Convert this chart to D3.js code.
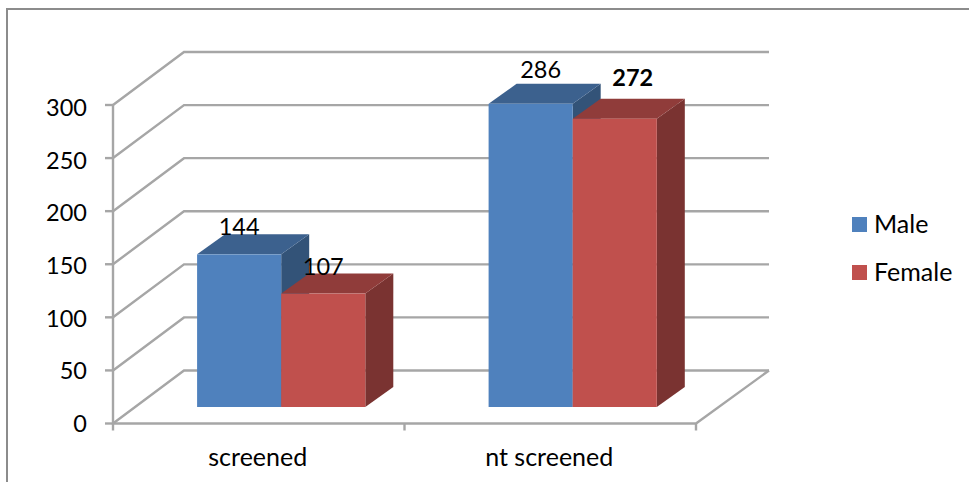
<!DOCTYPE html>
<html>
<head>
<meta charset="utf-8">
<script src="https://cdn.jsdelivr.net/npm/d3@7"></script>
<style>
  html, body { margin: 0; padding: 0; background: #fff; }
  svg { display: block; }
  text { font-family: Lato, "Open Sans", sans-serif; fill: #000; }
</style>
</head>
<body>
<svg id="chart" width="969" height="482"></svg>
<script>
const categories = ["screened", "nt screened"];
const seriesNames = ["Male", "Female"];
const maleValues = [144, 286];
const femaleValues = [107, 272];
const yTicks = [0, 50, 100, 150, 200, 250, 300];
const boldLabels = ["Female|nt screened"];

const faceColors = { Male: "#4f81bd", Female: "#c0504d" };
const topColors = { Male: "#3c618e", Female: "#903c3a" };
const sideColors = { Male: "#335378", Female: "#7a3331" };
const gridColor = "#a6a6a6";
const digitSize = 23.5;
const wordSize = 25;

// Hand-placed data labels: shift from the centre of the bar and lift above its front edge
const labelShift = {
  "Male|screened": [0, 19],
  "Female|screened": [0, 19],
  "Male|nt screened": [10, 26],
  "Female|nt screened": [18, 33]
};

const svg = d3.select("#chart");

// Chart frame: only the top and left edges fall inside the page
svg.append("path")
  .attr("d", d3.line()([[7, 482], [7, 9], [969, 9]]))
  .attr("fill", "none").attr("stroke", "#8c8c8c").attr("stroke-width", 2);

// Projection of the 3D floor: the back wall sits up and to the right of the front plane
const depth = { dx: 71, dy: -53 };
const barDepth = { dx: 28, dy: -20 };
const plotLeft = 113;
const plotRight = 696;

const y = d3.scaleLinear().domain([0, 300]).range([423.5, 105]);
const yBar = d3.scaleLinear().domain([0, 300]).range([407, 89]);
const yLabelBaseline = d3.scaleLinear().domain([0, 300]).range([432, 116]);
const x0 = d3.scaleBand().domain(categories).range([plotLeft, plotRight]);
const x1 = d3.scaleBand().domain(seriesNames)
  .range([x0.bandwidth() * 0.2885, x0.bandwidth() * 0.8655]);

const grid = svg.append("g")
  .attr("fill", "none").attr("stroke", gridColor).attr("stroke-width", 2.4);

// Back-wall gridlines with their diagonal return to the value axis
grid.selectAll("path.wall")
  .data(yTicks)
  .join("path")
  .attr("class", "wall")
  .attr("d", t => d3.line()([
    [plotLeft, y(t)],
    [plotLeft + depth.dx, y(t) + depth.dy],
    [plotRight + depth.dx + 2, y(t) + depth.dy]
  ]));

// Value axis, front floor edge and the right floor diagonal
grid.append("path")
  .attr("d", d3.line()([[plotLeft, y(300)], [plotLeft, y(0)], [plotRight, y(0)],
    [plotRight + depth.dx + 2, y(0) + depth.dy]]));

// Tick marks
grid.selectAll("line.ytick")
  .data(yTicks)
  .join("line")
  .attr("class", "ytick")
  .attr("x1", plotLeft - 8).attr("x2", plotLeft)
  .attr("y1", d => y(d)).attr("y2", d => y(d));

const xTickPositions = categories.map(c => x0(c)).concat(plotRight);
grid.selectAll("line.xtick")
  .data(xTickPositions)
  .join("line")
  .attr("class", "xtick")
  .attr("x1", d => d).attr("x2", d => d)
  .attr("y1", y(0)).attr("y2", y(0) + 7);

// Axis text
svg.append("g").selectAll("text")
  .data(yTicks)
  .join("text")
  .attr("x", 87).attr("y", d => yLabelBaseline(d))
  .attr("text-anchor", "end")
  .style("font-size", digitSize + "px")
  .text(d => d);

svg.append("g").selectAll("text")
  .data(categories)
  .join("text")
  .attr("x", c => x0(c) + x0.bandwidth() / 2 - 1)
  .attr("y", 466)
  .attr("text-anchor", "middle")
  .style("font-size", wordSize + "px")
  .text(c => c);

// Bars: side, top, then front face, drawn left to right so that later bars overlap
const rows = categories.flatMap((c, i) => [
  { category: c, series: "Male", value: maleValues[i] },
  { category: c, series: "Female", value: femaleValues[i] }
]);

const bars = svg.append("g").selectAll("g")
  .data(rows)
  .join("g")
  .attr("transform", d => `translate(${x0(d.category) + x1(d.series)},0)`);

const bw = x1.bandwidth();
const { dx, dy } = barDepth;

bars.append("path")
  .attr("fill", d => sideColors[d.series])
  .attr("d", d => {
    const t = yBar(d.value), b = yBar(0);
    return d3.line()([[bw, t], [bw + dx, t + dy], [bw + dx, b + dy], [bw, b]]) + "Z";
  });

bars.append("path")
  .attr("fill", d => topColors[d.series])
  .attr("d", d => {
    const t = yBar(d.value);
    return d3.line()([[0, t], [dx, t + dy], [bw + dx, t + dy], [bw, t]]) + "Z";
  });

bars.append("rect")
  .attr("x", 0).attr("width", bw)
  .attr("y", d => yBar(d.value))
  .attr("height", d => yBar(0) - yBar(d.value))
  .attr("fill", d => faceColors[d.series]);

// Value labels, placed last so they sit over every bar
svg.append("g").selectAll("text")
  .data(rows)
  .join("text")
  .attr("x", d => x0(d.category) + x1(d.series) + bw / 2 + labelShift[d.series + "|" + d.category][0])
  .attr("y", d => yBar(d.value) - labelShift[d.series + "|" + d.category][1])
  .attr("text-anchor", "middle")
  .style("font-size", digitSize + "px")
  .style("font-weight", d => boldLabels.includes(d.series + "|" + d.category) ? 700 : 400)
  .text(d => d.value);

// Legend
const legend = svg.append("g").selectAll("g")
  .data(seriesNames)
  .join("g")
  .attr("transform", (d, i) => `translate(852,${217 + i * 48})`);

legend.append("rect")
  .attr("width", 15).attr("height", 15)
  .attr("fill", d => faceColors[d]);

legend.append("text")
  .attr("x", 22).attr("y", 16)
  .style("font-size", wordSize + "px")
  .text(d => d);
</script>
</body>
</html>
